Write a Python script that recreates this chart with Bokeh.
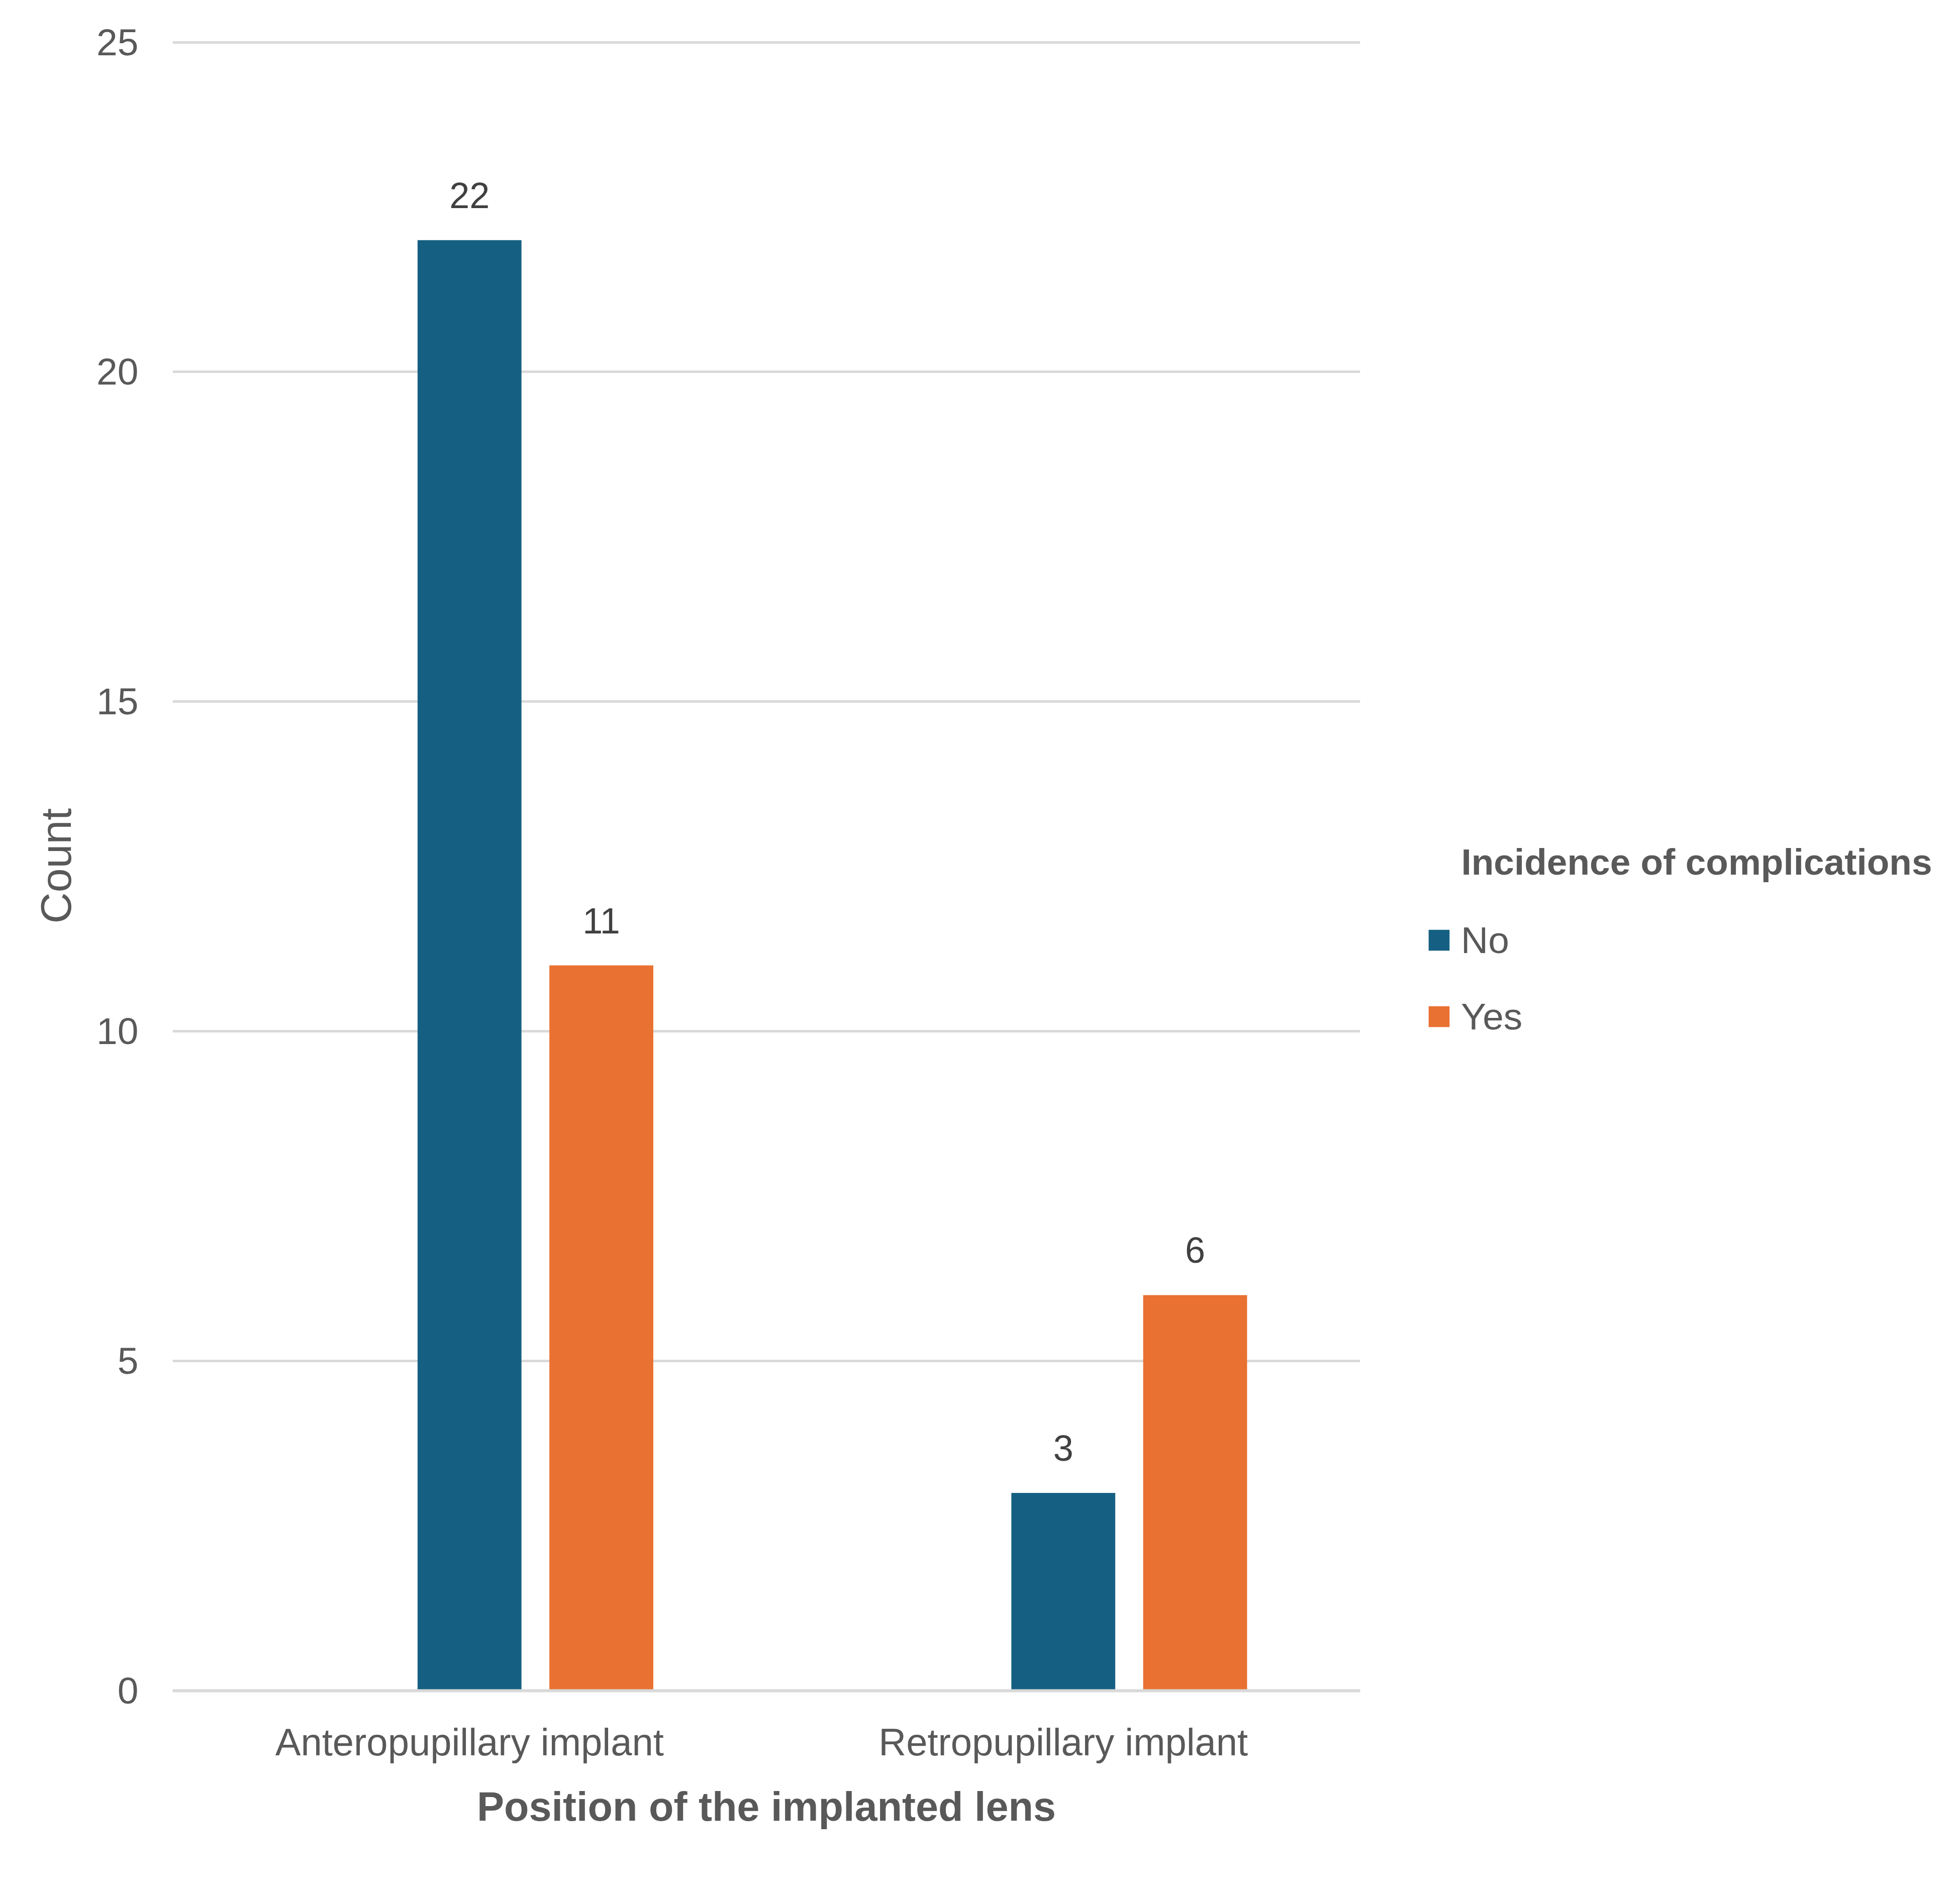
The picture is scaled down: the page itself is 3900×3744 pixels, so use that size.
from bokeh.plotting import figure
from bokeh.models import (ColumnDataSource, FactorRange, Range1d, LabelSet, Legend,
                          LegendItem, Label, FixedTicker)
from bokeh.transform import dodge
from bokeh.embed import file_html
from bokeh.resources import INLINE
from bokeh.core.properties import value

# ---- data ----
categories = ["Anteropupillary implant", "Retropupillary implant"]
series = ["No", "Yes"]
no_counts = [22, 3]
yes_counts = [11, 6]
y_ticks = [0, 5, 10, 15, 20, 25]
legend_title = "Incidence of complications"
x_title = "Position of the implanted lens"
y_title = "Count"

FONT = "Liberation Sans"
TEXT = "#595959"
LABEL = "#404040"
GRID = "#d9d9d9"
BLUE = "#156082"
ORANGE = "#E97132"

W, H = 3884, 3728
p = figure(x_range=FactorRange(factors=categories, range_padding=0),
           y_range=Range1d(0, 25.02),
           width=W, height=H, output_backend="svg", toolbar_location=None,
           min_border_left=343, min_border_right=1178,
           min_border_top=77, min_border_bottom=365)
p.outline_line_color = None
p.background_fill_color = "white"
p.border_fill_color = "white"

src = ColumnDataSource(dict(
    cat=categories,
    No=no_counts,
    Yes=yes_counts,
    no_lbl=[str(v) for v in no_counts],
    yes_lbl=[str(v) for v in yes_counts],
))

BW = 0.175
OFF = 0.222
r_no = p.vbar(x=dodge("cat", 0.0, range=p.x_range), top="No", width=BW,
              source=src, fill_color=BLUE, line_color=None)
r_yes = p.vbar(x=dodge("cat", OFF, range=p.x_range), top="Yes", width=BW,
               source=src, fill_color=ORANGE, line_color=None)

for xoff, col, lab in [(0.0, "No", "no_lbl"), (OFF, "Yes", "yes_lbl")]:
    ls = LabelSet(x=dodge("cat", xoff, range=p.x_range), y=col, text=lab, source=src,
                  y_offset=64, text_align="center", text_baseline="alphabetic",
                  text_font=value(FONT), text_font_size="72px", text_color=LABEL)
    p.add_layout(ls)

# axes
p.xaxis.axis_line_color = GRID
p.xaxis.axis_line_width = 6
p.xaxis.major_tick_line_color = None
p.xaxis.minor_tick_line_color = None
p.xaxis.major_label_text_font = FONT
p.xaxis.major_label_text_font_size = "76px"
p.xaxis.major_label_text_color = TEXT
p.xaxis.major_label_standoff = 53
p.xaxis.axis_label = x_title
p.xaxis.axis_label_text_font = FONT
p.xaxis.axis_label_text_font_size = "81px"
p.xaxis.axis_label_text_font_style = "bold"
p.xaxis.axis_label_text_color = TEXT
p.xaxis.axis_label_standoff = 38

p.yaxis.ticker = FixedTicker(ticks=y_ticks)
p.yaxis.axis_line_color = None
p.yaxis.major_tick_line_color = None
p.yaxis.minor_tick_line_color = None
p.yaxis.major_label_text_font = FONT
p.yaxis.major_label_text_font_size = "75px"
p.yaxis.major_label_text_color = TEXT
p.yaxis.major_label_standoff = 62
p.yaxis.axis_label = y_title
p.yaxis.axis_label_text_font = FONT
p.yaxis.axis_label_text_font_size = "86px"
p.yaxis.axis_label_text_font_style = "normal"
p.yaxis.axis_label_text_color = TEXT
p.yaxis.axis_label_standoff = 30

p.xgrid.visible = False
p.ygrid.ticker = FixedTicker(ticks=y_ticks)
p.ygrid.grid_line_color = GRID
p.ygrid.grid_line_width = 5

legend = Legend(items=[LegendItem(label=series[0], renderers=[r_no]),
                       LegendItem(label=series[1], renderers=[r_yes])],
                location=(131, 1298),
                label_text_font=FONT, label_text_font_size="75px",
                label_text_color=TEXT,
                glyph_width=52, glyph_height=52, label_standoff=18,
                spacing=66, padding=0, margin=0,
                border_line_color=None, background_fill_alpha=0)
p.add_layout(legend, "right")

title = Label(x=2564, y=-1633, x_units="screen", y_units="screen",
              text=legend_title, text_font=FONT, text_font_size="73px",
              text_font_style="bold", text_color=TEXT, text_line_height=1.0,
              text_baseline="alphabetic", text_align="left")
p.add_layout(title, "above")

open("out.html", "w").write(file_html(p, INLINE))
